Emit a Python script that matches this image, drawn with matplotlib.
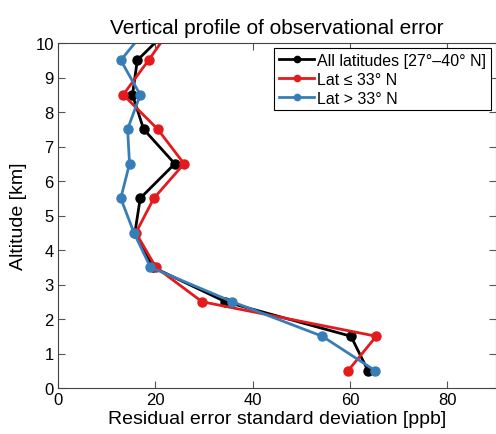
import numpy as np
import matplotlib
matplotlib.use("Agg")
import matplotlib.pyplot as plt

plt.rcParams["font.family"] = ["Liberation Sans", "DejaVu Sans"]

# altitude levels (km); top level is clipped by the axes like in the original
altitude = [0.5, 1.5, 2.5, 3.5, 4.5, 5.5, 6.5, 7.5, 8.5, 9.5, 10.5]

err_all = [63.7, 60.2, 34.4, 19.5, 15.8, 16.9, 24.0, 17.6, 15.3, 16.3, 23.5]
err_south = [59.6, 65.4, 29.6, 20.1, 16.0, 19.7, 25.9, 20.5, 13.4, 18.6, 23.6]
err_north = [65.2, 54.3, 35.8, 19.0, 15.6, 12.9, 14.7, 14.3, 16.9, 12.9, 18.7]

labels = ["All latitudes [27\u00b0\u201340\u00b0 N]",
          "Lat \u2264 33\u00b0 N",
          "Lat > 33\u00b0 N"]
colors = ["black", "#e41a1c", "#377eb8"]

fig = plt.figure(figsize=(4.96, 4.35), dpi=100)
ax = fig.add_axes([58 / 496, 1 - 389 / 435, (496 - 58) / 496, (389 - 44) / 435])

for vals, lab, c in zip([err_all, err_south, err_north], labels, colors):
    ax.plot(vals, altitude, "-o", color=c, lw=2, ms=6.5, label=lab)

ax.set_xlim(0, 90)
ax.set_ylim(0, 10)
ax.set_xticks([0, 20, 40, 60, 80])
ax.set_yticks(np.arange(0, 11, 1))
ax.tick_params(direction="in", top=True, right=True, labelsize=12, length=5,
               color="#555555", pad=3)
for sp in ax.spines.values():
    sp.set_color("#444444")
ax.set_xlabel("Residual error standard deviation [ppb]", fontsize=14, labelpad=2)
ax.set_ylabel("Altitude [km]", fontsize=14, labelpad=6)
ax.set_title("Vertical profile of observational error", fontsize=15, pad=7)

leg = ax.legend(loc="upper right", fontsize=11.5, fancybox=False, framealpha=1,
                edgecolor="black", handlelength=2.2, handletextpad=0.2,
                borderpad=0.3, labelspacing=0.25, borderaxespad=0.3)
leg.get_frame().set_linewidth(0.8)
for h in leg.legend_handles:
    h.set_markersize(4.5)

fig.savefig("out.png", dpi=100)
